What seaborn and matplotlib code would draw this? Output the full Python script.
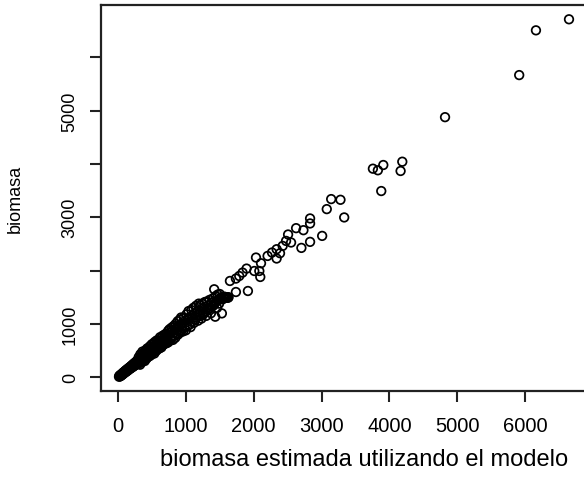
import matplotlib
matplotlib.use("Agg")
import matplotlib.pyplot as plt
import seaborn as sns
import pandas as pd

# ---- data ----
x_low = [15, 20, 25, 30, 35, 40, 45, 50, 55, 60, 65, 70, 75, 80, 85, 90, 95, 100, 105, 110,
         115, 120, 125, 130, 135, 140, 145, 150, 155, 160, 165, 170, 175, 180, 185, 190, 195,
         200, 205, 210, 215, 220, 225, 230, 235, 240, 245, 250, 255, 260, 265, 270, 275, 280,
         285, 290, 295, 300]
y_low = [10, 25, 15, 35, 20, 45, 30, 55, 40, 65, 50, 80, 60, 90, 70, 100, 85, 110, 90, 125,
         100, 130, 110, 145, 120, 150, 125, 165, 140, 175, 150, 180, 160, 195, 165, 205, 175,
         215, 185, 225, 195, 240, 200, 250, 210, 260, 225, 270, 230, 285, 240, 290, 250, 305,
         260, 315, 270, 320]

x_mid = [305, 310, 320, 325, 330, 340, 345, 350, 355, 360, 370, 375, 380, 385, 390, 395, 400,
         405, 410, 420, 425, 430, 435, 440, 445, 450, 460, 465, 470, 475, 480, 490, 495, 500,
         505, 510, 520, 525, 530, 535, 540, 550, 555, 560, 565, 570, 580, 585, 590, 595, 600,
         610, 615, 620, 630, 635, 640, 645, 650, 660, 665, 670, 680, 685, 690, 700]
y_mid = [375, 260, 340, 235, 430, 310, 395, 280, 365, 480, 310, 415, 450, 335, 410, 305, 500,
         375, 460, 350, 435, 540, 375, 480, 515, 400, 510, 395, 580, 445, 530, 420, 485, 620,
         455, 550, 610, 475, 560, 445, 660, 500, 600, 490, 575, 690, 520, 625, 680, 545, 650,
         540, 665, 750, 580, 675, 560, 745, 600, 780, 610, 720, 620, 770, 800, 640]

x_upper = [710, 720, 725, 730, 740, 745, 750, 760, 770, 775, 780, 790, 800, 805, 810, 820, 830,
           840, 845, 850, 860, 870, 880, 885, 890, 900, 910, 920, 925, 930, 940, 950, 960, 970,
           980, 990, 1000, 1010, 1020, 1030, 1040, 1050, 1060, 1070, 1080, 1090, 1100, 1110,
           1120, 1130, 1140, 1150, 1160, 1170, 1180, 1190, 1200]
y_upper = [820, 640, 760, 700, 870, 660, 800, 900, 700, 840, 720, 930, 760, 880, 700, 960, 780,
           900, 740, 1000, 820, 940, 1050, 800, 960, 860, 1080, 840, 990, 1120, 880, 1010, 860,
           1120, 940, 1060, 880, 1180, 960, 1090, 1240, 980, 1120, 940, 1260, 1040, 1160, 1300,
           1020, 1200, 1080, 1340, 1120, 1230, 1060, 1380, 1170]

x_cluster = [1210, 1220, 1230, 1240, 1250, 1260, 1270, 1280, 1290, 1300, 1310, 1320, 1330, 1340,
             1350, 1360, 1370, 1380, 1390, 1400, 1410, 1418, 1425, 1433, 1440, 1450, 1460, 1470,
             1480, 1490, 1500, 1510, 1520, 1531, 1540, 1550, 1560, 1570, 1580, 1590, 1600, 1610,
             1620, 1630]
y_cluster = [1350, 1150, 1100, 1380, 1180, 1300, 1200, 1410, 1230, 1150, 1420, 1260, 1350, 1280,
             1450, 1300, 1200, 1400, 1330, 1480, 1350, 1649, 1380, 1135, 1520, 1420, 1300, 1550,
             1450, 1380, 1560, 1470, 1500, 1197, 1461, 1500, 1480, 1510, 1490, 1500, 1490, 1500,
             1490, 1500]

x_sparse = [1650, 1738, 1738, 1787, 1836, 1895, 1915, 2009, 2034, 2083, 2097, 2108, 2205, 2270,
            2338, 2338, 2388, 2427, 2477, 2507, 2551, 2625, 2703, 2733, 2831, 2831, 2831, 3009,
            3077, 3142, 3279, 3334, 3757, 3830, 3880, 3910, 4165, 4190, 4820, 5913, 6160, 6647]
y_sparse = [1805, 1850, 1598, 1898, 1962, 2037, 1617, 1992, 2244, 1992, 1880, 2137, 2274, 2338,
            2400, 2226, 2325, 2462, 2556, 2676, 2526, 2795, 2425, 2757, 2977, 2883, 2538, 2650,
            3152, 3340, 3327, 2996, 3910, 3880, 3491, 3979, 3867, 4041, 4876, 5665, 6504, 6711]

x_ticks = [0, 1000, 2000, 3000, 4000, 5000, 6000]
x_tick_labels = ["0", "1000", "2000", "3000", "4000", "5000", "6000"]
y_ticks = [0, 1000, 2000, 3000, 4000, 5000, 6000]
y_tick_labels = ["0", "1000", "", "3000", "", "5000", ""]

x_label = "biomasa estimada utilizando el modelo"
y_label = "biomasa"

df = pd.DataFrame({
    "estimada": x_low + x_mid + x_upper + x_cluster + x_sparse,
    "biomasa": y_low + y_mid + y_upper + y_cluster + y_sparse,
})

# ---- figure ----
sns.set_style("white")
plt.rcParams["font.family"] = ["Liberation Sans", "DejaVu Sans"]
plt.rcParams["text.color"] = "black"
plt.rcParams["axes.labelcolor"] = "black"
plt.rcParams["xtick.color"] = "#222222"
plt.rcParams["ytick.color"] = "#222222"

W, H = 584, 481
fig = plt.figure(figsize=(W / 100, H / 100), dpi=100)
ax = fig.add_axes([101 / W, (H - 392) / H, 486 / W, 386 / H])

sns.scatterplot(data=df, x="estimada", y="biomasa", ax=ax, marker="o",
                s=38, linewidth=1.25, edgecolor="black", legend=False)
for c in ax.collections:
    c.set_facecolor("none")
    c.set_edgecolor("black")

# R style limits: 4% extension
xmin, xmax = df["estimada"].min(), df["estimada"].max()
ymin, ymax = df["biomasa"].min(), df["biomasa"].max()
rx, ry = xmax - xmin, ymax - ymin
ax.set_xlim(xmin - 0.04 * rx, xmax + 0.04 * rx)
ax.set_ylim(ymin - 0.04 * ry, ymax + 0.04 * ry)

ax.set_xticks(x_ticks)
ax.set_xticklabels(x_tick_labels, fontsize=14.5, color="black")
ax.set_yticks(y_ticks)
ax.set_yticklabels(y_tick_labels, fontsize=13, rotation=90, va="center", color="black")

ax.tick_params(axis="both", direction="out", length=8, width=1.5, color="#222222",
               bottom=True, left=True, top=False, right=False)
ax.tick_params(axis="x", pad=10)
ax.tick_params(axis="y", pad=8)

for sp in ax.spines.values():
    sp.set_visible(True)
    sp.set_color("#222222")
    sp.set_linewidth(1.6)

ax.set_xlabel(x_label, fontsize=17, color="black")
ax.set_ylabel(y_label, fontsize=13, color="black")
ax.xaxis.set_label_coords((364 - 101) / 486, -(460 - 392) / 386)
ax.yaxis.set_label_coords(-(101 - 15) / 486, 0.5)
ax.xaxis.label.set_va("center")
ax.yaxis.label.set_va("center")

fig.savefig("out.png", dpi=100, facecolor="white")
